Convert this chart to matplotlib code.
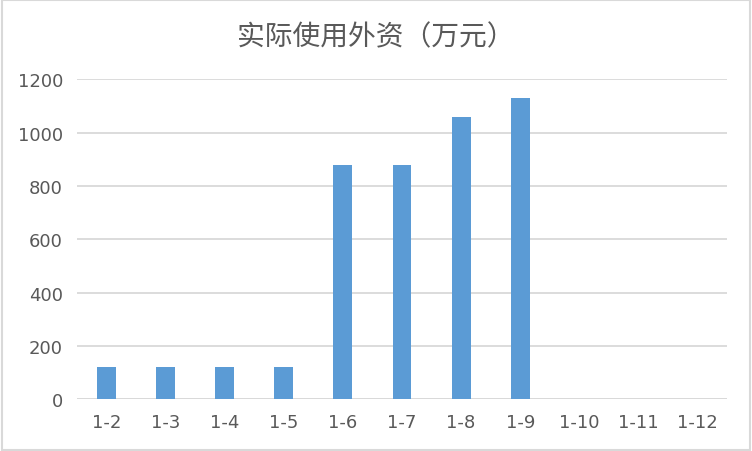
import matplotlib.pyplot as plt
from matplotlib.patches import Rectangle

plt.rcParams['font.family'] = ['DejaVu Sans']

categories = ['1-2', '1-3', '1-4', '1-5', '1-6', '1-7', '1-8', '1-9', '1-10', '1-11', '1-12']
values = [120, 120, 120, 120, 880, 880, 1060, 1130, 0, 0, 0]
yticks = [0, 200, 400, 600, 800, 1000, 1200]
title = '实际使用外资（万元）'

fig = plt.figure(figsize=(7.52, 4.52), dpi=100)
ax = fig.add_axes([0.1024, 0.114, 0.8644, 0.708])

ax.bar(range(len(categories)), values, width=0.32, color='#5b9bd5', zorder=3)
ax.set_xlim(-0.5, len(categories) - 0.5)
ax.set_ylim(0, 1200)
ax.set_yticks(yticks)
ax.set_xticks(range(len(categories)), categories)
ax.tick_params(axis='both', length=0, labelsize=13, colors='#595959')
ax.tick_params(axis='y', pad=10)
ax.tick_params(axis='x', pad=10)
ax.grid(axis='y', color='#d9d9d9', linewidth=1.3, zorder=0)
for s in ax.spines.values():
    s.set_visible(False)
ax.axhline(0, color='#d9d9d9', linewidth=1.8, zorder=1)

fig.text(0.5, 0.918, title, ha='center', va='center', fontsize=20, color='#595959',
         family=['Noto Sans CJK SC', 'DejaVu Sans'])

fig.patches.append(Rectangle((0.002, 0.003), 0.996, 0.994, transform=fig.transFigure,
                             fill=False, edgecolor='#d9d9d9', linewidth=1.5))

fig.savefig('out.png', dpi=100)
